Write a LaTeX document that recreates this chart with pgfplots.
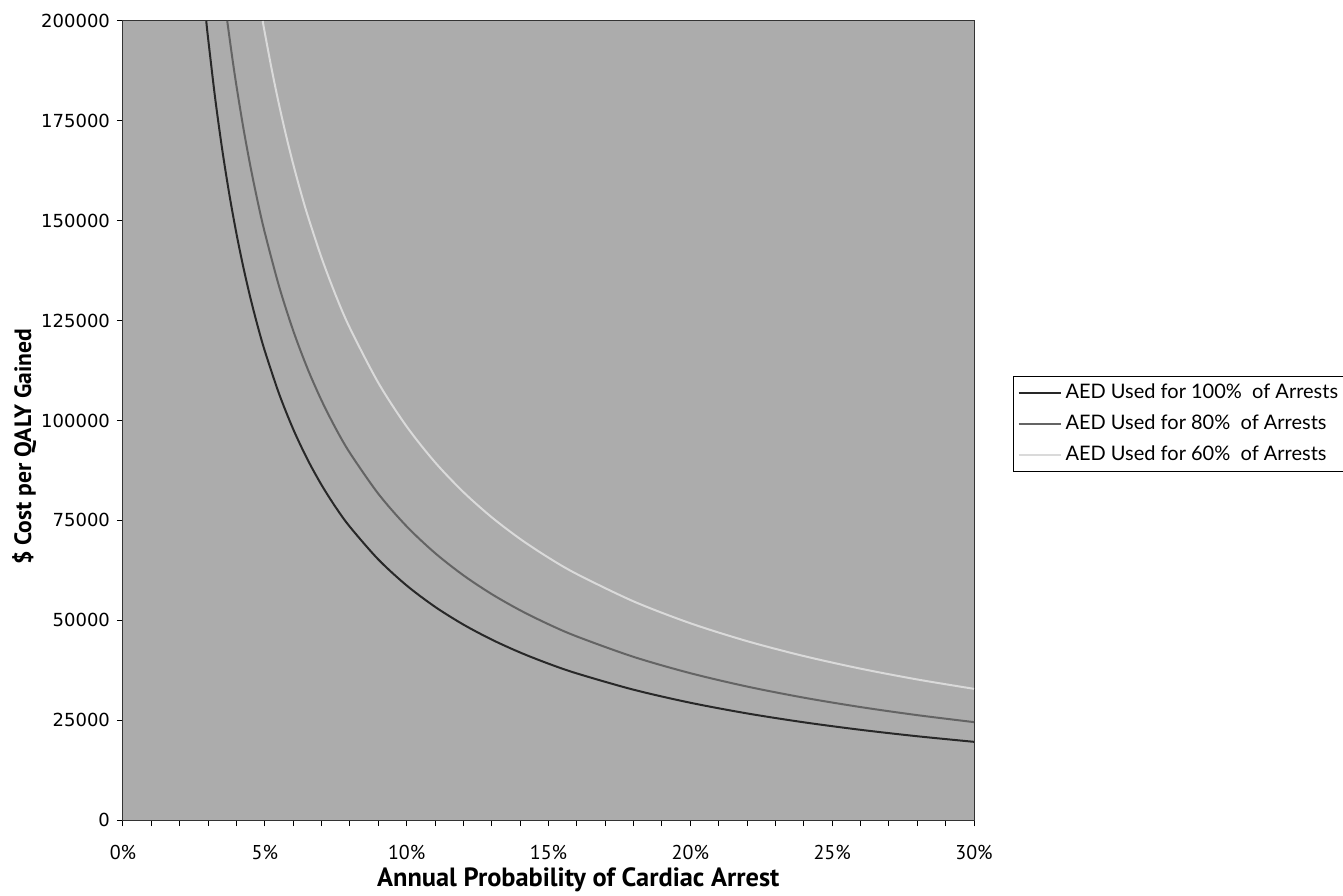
\documentclass[border=0pt]{standalone}
\usepackage{fontspec}
\setmainfont{PT Sans}
\newfontfamily\tickfont{DejaVu Sans}
\newfontfamily\legfont{Lato}
\usepackage{pgfplots}
\pgfplotsset{compat=1.18}
\usetikzlibrary{calc}

\definecolor{plotbg}{RGB}{172,172,172}
\definecolor{cfull}{RGB}{40,40,40}
\definecolor{ceighty}{RGB}{100,100,100}
\definecolor{csixty}{RGB}{218,218,218}

\begin{document}
\begin{tikzpicture}
\begin{axis}[
    scale only axis,
    width=425.5pt, height=399.5pt,
    xmin=0, xmax=30, ymin=0, ymax=200000,
    axis background/.style={fill=plotbg},
    axis line style={black!80, line width=0.5pt},
    xtick={0,5,...,30},
    xticklabels={0\%,5\%,10\%,15\%,20\%,25\%,30\%},
    minor xtick={0,1,...,30},
    ytick={0,25000,...,200000},
    scaled y ticks=false,
    yticklabel={\pgfmathprintnumber[fixed,precision=0,1000 sep={},assume math mode=true]{\tick}},
    tick align=outside,
    xtick pos=left, ytick pos=left,
    major tick length=3pt, minor tick length=3pt,
    tick style={black, line width=0.5pt},
    xticklabel style={font=\fontsize{10}{12}\selectfont, yshift=-6pt},
    yticklabel style={font=\tickfont\fontsize{9}{11}\selectfont},
    xlabel={\bfseries Annual Probability of Cardiac Arrest},
    ylabel={\bfseries \$ Cost per QALY Gained},
    xlabel style={font=\fontsize{13.2}{15}\selectfont, at={(axis description cs:0.535,-0.075)}, anchor=center},
    ylabel style={font=\fontsize{11.8}{14}\selectfont, at={(axis description cs:-0.116,0.467)}, anchor=center},
    legend style={at={(axis description cs:1,0.556)}, anchor=north west, xshift=19.5pt,
        draw=black, fill=white, line width=0.5pt,
        font=\legfont\fontsize{10}{12}\selectfont,
        inner sep=2pt, row sep=2.5pt,
        cells={anchor=west}},
    legend image code/.code={\draw[#1, line width=1pt] (0pt,0pt) -- (21pt,0pt);},
    legend cell align=left,
]

% AED used for 100% of arrests
\addplot[cfull, line width=1pt, smooth] coordinates {
    (2.935,200000) (3,195667) (3.25,180615) (3.5,167714) (3.75,156533)
    (4,146750) (4.25,138118) (4.5,130444) (4.75,123579)
    (5,117400) (5.5,106727) (6,97833) (6.5,90308) (7,83857) (7.5,78267)
    (8,73375) (9,65222)
    (10,58700) (11,53364) (12,48917) (13,45154) (14,41929) (15,39133)
    (16,36688) (18,32611) (20,29350) (22,26682) (24,24458) (26,22577)
    (28,20964) (30,19567)
};

% AED used for 80% of arrests
\addplot[ceighty, line width=1pt, smooth] coordinates {
    (3.675,200000) (3.85,190909) (4,183750) (4.25,172941) (4.5,163333)
    (4.75,154737) (5,147000) (5.5,133636)
    (6,122500) (6.5,113077) (7,105000) (7.5,98000) (8,91875) (9,81667)
    (10,73500) (11,66818)
    (12,61250) (13,56538) (14,52500) (15,49000) (16,45938) (18,40833)
    (20,36750) (22,33409) (24,30625) (26,28269) (28,26250) (30,24500)
};

% AED used for 60% of arrests
\addplot[csixty, line width=1pt, smooth] coordinates {
    (4.925,200000) (5,197000) (5.25,187619) (5.5,179091) (5.75,171304)
    (6,164167) (6.25,157600) (6.5,151538)
    (7,140714) (7.5,131333) (8,123125) (9,109444) (10,98500) (11,89545)
    (12,82083)
    (13,75769) (14,70357) (15,65667) (16,61563) (18,54722) (20,49250)
    (22,44773) (24,41042) (26,37885) (28,35179) (30,32833)
};

\legend{AED Used for 100\%\ \ of Arrests, AED Used for 80\%\ \ of Arrests, AED Used for 60\%\ \ of Arrests}
\end{axis}
\pgfresetboundingbox
\path[use as bounding box] ($(current axis.south west)+(-61.5pt,-37.5pt)$) rectangle ($(current axis.north east)+(184.5pt,10.5pt)$);
\end{tikzpicture}
\end{document}
